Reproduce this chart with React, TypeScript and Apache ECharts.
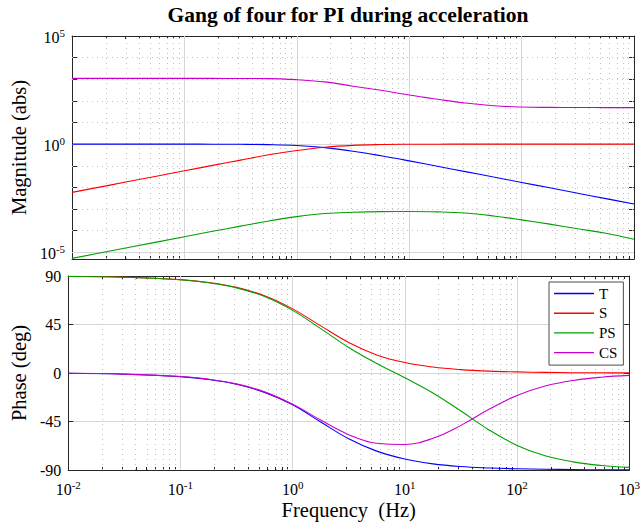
import React, { useEffect, useRef } from 'react';
import * as echarts from 'echarts';

// ---------------- data ----------------
const freqHz = [0.01, 0.0316, 0.1, 0.178, 0.316, 0.562, 1, 1.78, 3.16, 5.62, 10, 17.8, 31.6, 56.2, 100, 178, 316, 562, 1000];

const magT = [1.0, 1.0, 0.998, 0.995, 0.983, 0.949, 0.862, 0.691, 0.473, 0.289, 0.168, 0.0952, 0.0537, 0.0302, 0.017, 0.00956, 0.00538, 0.00302, 0.0017];
const magS = [0.00588, 0.0186, 0.0587, 0.104, 0.183, 0.321, 0.507, 0.723, 0.881, 0.957, 0.986, 0.996, 0.999, 1.0, 1.0, 1.0, 1.0, 1.0, 1.0];
const magPS = [5.25e-6, 1.66e-5, 5.25e-5, 9.33e-5, 1.62e-4, 2.82e-4, 4.47e-4, 6.17e-4, 7.08e-4, 7.59e-4, 7.67e-4, 7.41e-4, 6.53e-4, 4.79e-4, 3.16e-4, 2.0e-4, 1.23e-4, 7.59e-5, 3.98e-5];
const magCS = [1096, 1096, 1096, 1094, 1084, 1072, 955, 759, 479, 309, 186, 119.4, 79.4, 59.6, 52.2, 50.1, 49.5, 49.0, 49.0];

const phaseT = [-0.3, -1.1, -3.4, -6.0, -10.5, -18.0, -29.5, -45.5, -61.0, -72.5, -79.8, -84.3, -86.8, -88.1, -88.9, -89.3, -89.6, -89.8, -89.9];
const phaseS = [89.7, 88.9, 86.6, 84.0, 79.5, 71.7, 59.5, 43.7, 28.3, 16.8, 9.7, 5.5, 3.1, 1.7, 1.0, 0.55, 0.3, 0.17, 0.1];
const phasePS = [89.6, 88.9, 86.5, 83.8, 79.0, 70.9, 58.1, 41.2, 23.7, 8.8, -4.4, -18.5, -35.3, -52.8, -67.2, -76.8, -82.5, -85.8, -87.6];
const phaseCS = [-0.3, -1.0, -3.2, -5.7, -10.1, -17.5, -29.0, -43.7, -57.2, -65.2, -66.3, -60.6, -48.6, -33.7, -20.8, -12.1, -6.9, -3.9, -2.2];

const seriesNames = ['T', 'S', 'PS', 'CS'];
const titleText = 'Gang of four for PI during acceleration';
const magAxisName = 'Magnitude (abs)';
const phaseAxisName = 'Phase (deg)';
const freqAxisName = 'Frequency  (Hz)';

// axis ranges / ticks (exponents of 10 for log axes)
const freqExpMin = -2;
const freqExpMax = 3;
const magExpMin = -5.31;
const magExpMax = 5;
const magLabelExps = [-5, 0, 5];
const magDecadeExps = [-5, -4, -3, -2, -1, 0, 1, 2, 3, 4, 5];
const phaseMin = -90;
const phaseMax = 90;
const phaseStep = 45;

// ---------------- styles ----------------
const colors = ['#0000ff', '#ff0000', '#00a000', '#cc00cc'];
const FONT = '"Liberation Serif", "Times New Roman", serif';
const AXIS_COLOR = '#262626';
const MAJOR_GRID = '#d6d6d6';
const MINOR_GRID = '#c0c0c0';

const lg = Math.log10;

export default function App() {
  const ref = useRef<HTMLDivElement>(null);

  useEffect(() => {
    if (!ref.current) return;
    const chart = echarts.init(ref.current, undefined, { renderer: 'svg' });

    const minorX: number[] = [];
    const majorX: number[] = [];
    for (let n = freqExpMin; n < freqExpMax; n++) {
      if (n > freqExpMin) majorX.push(n);
      for (let k = 2; k <= 9; k++) minorX.push(n + lg(k));
    }

    const supFmt = (v: number) => `{b|10}{s|${Math.round(v)}}`;
    const rich = {
      b: { fontFamily: FONT, fontSize: 16, color: '#000', verticalAlign: 'bottom' },
      s: { fontFamily: FONT, fontSize: 11, color: '#000', verticalAlign: 'top', padding: [0, 0, 7, 0] },
    };
    const lineStyle = { color: AXIS_COLOR, width: 1 };

    const makeXAxes = (gridIndex: number, withLabels: boolean) => {
      const base = {
        type: 'value',
        gridIndex,
        min: freqExpMin,
        max: freqExpMax,
        interval: 1,
        splitLine: { show: false },
      };
      return [
        {
          ...base,
          position: 'bottom',
          axisLine: { show: true, onZero: false, lineStyle },
          axisTick: { show: true, inside: true, length: 6, lineStyle },
          axisLabel: withLabels
            ? { show: true, formatter: supFmt, rich, margin: 9 }
            : { show: false },
          ...(withLabels
            ? {
                name: freqAxisName,
                nameLocation: 'middle',
                nameGap: 29,
                nameTextStyle: { fontFamily: FONT, fontSize: 20.5, color: '#000' },
              }
            : {}),
        },
        {
          ...base,
          position: 'bottom',
          axisLine: { show: false, onZero: false },
          axisTick: { show: true, inside: true, length: 3, customValues: minorX, lineStyle },
          axisLabel: { show: false },
        },
        {
          ...base,
          position: 'top',
          axisLine: { show: true, onZero: false, lineStyle },
          axisTick: { show: true, inside: true, length: 6, lineStyle },
          axisLabel: { show: false },
        },
        {
          ...base,
          position: 'top',
          axisLine: { show: false, onZero: false },
          axisTick: { show: true, inside: true, length: 3, customValues: minorX, lineStyle },
          axisLabel: { show: false },
        },
      ];
    };

    const xAxis = [...makeXAxes(0, false), ...makeXAxes(1, true)];

    const yAxis = [
      {
        type: 'value',
        gridIndex: 0,
        position: 'left',
        min: magExpMin,
        max: magExpMax,
        axisLine: { show: true, onZero: false, lineStyle },
        axisTick: { show: true, inside: true, length: 5, customValues: magDecadeExps, lineStyle },
        axisLabel: { show: true, customValues: magLabelExps, formatter: supFmt, rich, margin: 7 },
        splitLine: { show: false },
        name: magAxisName,
        nameLocation: 'middle',
        nameGap: 38,
        nameTextStyle: { fontFamily: FONT, fontSize: 20.5, color: '#000' },
      },
      {
        type: 'value',
        gridIndex: 0,
        position: 'right',
        min: magExpMin,
        max: magExpMax,
        axisLine: { show: true, onZero: false, lineStyle },
        axisTick: { show: true, inside: true, length: 5, customValues: magDecadeExps, lineStyle },
        axisLabel: { show: false },
        splitLine: { show: false },
      },
      {
        type: 'value',
        gridIndex: 1,
        position: 'left',
        min: phaseMin,
        max: phaseMax,
        interval: phaseStep,
        axisLine: { show: true, onZero: false, lineStyle },
        axisTick: { show: true, inside: true, length: 5, lineStyle },
        axisLabel: { show: true, fontFamily: FONT, fontSize: 16, color: '#000', margin: 7 },
        splitLine: { show: true, lineStyle: { color: MAJOR_GRID, width: 1 } },
        name: phaseAxisName,
        nameLocation: 'middle',
        nameGap: 31,
        nameTextStyle: { fontFamily: FONT, fontSize: 20.5, color: '#000' },
      },
      {
        type: 'value',
        gridIndex: 1,
        position: 'right',
        min: phaseMin,
        max: phaseMax,
        interval: phaseStep,
        axisLine: { show: true, onZero: false, lineStyle },
        axisTick: { show: true, inside: true, length: 5, lineStyle },
        axisLabel: { show: false },
        splitLine: { show: false },
      },
    ];

    const dotted = { type: [1, 4], color: MINOR_GRID, width: 1 };
    const solid = { type: 'solid', color: MAJOR_GRID, width: 1 };

    const vLines = [
      ...minorX.map((v) => ({ xAxis: v, lineStyle: dotted })),
      ...majorX.map((v) => ({ xAxis: v, lineStyle: solid })),
    ];
    const hLinesTop = magDecadeExps
      .filter((e) => e !== magExpMax)
      .map((e) => ({ yAxis: e, lineStyle: magLabelExps.includes(e) ? solid : dotted }));

    const gridHost = (xi: number, yi: number, lines: any[]) => ({
      type: 'line',
      name: '__grid' + xi,
      xAxisIndex: xi,
      yAxisIndex: yi,
      data: [[freqExpMin, 0]],
      symbol: 'none',
      lineStyle: { opacity: 0 },
      silent: true,
      z: 1,
      emphasis: { disabled: true },
      markLine: {
        silent: true,
        symbol: ['none', 'none'],
        label: { show: false },
        animation: false,
        emphasis: { disabled: true },
        data: lines,
      },
    });

    const magSets = [magT, magS, magPS, magCS];
    const phaseSets = [phaseT, phaseS, phasePS, phaseCS];

    const curve = (name: string, color: string, xi: number, yi: number, data: number[][]) => ({
      type: 'line',
      name,
      xAxisIndex: xi,
      yAxisIndex: yi,
      data,
      symbol: 'none',
      smooth: 0.4,
      lineStyle: { color, width: 1.1 },
      itemStyle: { color },
      z: 5,
      emphasis: { disabled: true },
    });

    const series: any[] = [
      gridHost(0, 0, [...vLines, ...hLinesTop]),
      gridHost(4, 2, vLines),
    ];
    seriesNames.forEach((name, i) => {
      series.push(
        curve(name, colors[i], 0, 0, freqHz.map((f, j) => [lg(f), lg(magSets[i][j])]))
      );
    });
    seriesNames.forEach((name, i) => {
      series.push(curve(name, colors[i], 4, 2, freqHz.map((f, j) => [lg(f), phaseSets[i][j]])));
    });

    const option: any = {
      animation: false,
      backgroundColor: '#ffffff',
      textStyle: { fontFamily: FONT },
      graphic: [
        {
          type: 'text',
          x: 348,
          y: 15,
          style: {
            text: titleText,
            fontFamily: FONT,
            fontSize: 21.5,
            fontWeight: 'bold',
            fill: '#000',
            align: 'center',
            verticalAlign: 'middle',
          },
        },
      ],
      grid: [
        { left: 63, top: 36, width: 571, height: 223, containLabel: false },
        { left: 63, top: 276, width: 571, height: 194, containLabel: false },
      ],
      legend: {
        data: seriesNames,
        orient: 'vertical',
        left: 549,
        top: 282,
        icon: 'rect',
        itemWidth: 40,
        itemHeight: 1.4,
        itemGap: 4.7,
        padding: [4, 6, 5, 5],
        borderColor: '#4d4d4d',
        borderWidth: 1,
        backgroundColor: '#ffffff',
        selectedMode: false,
        textStyle: { fontFamily: FONT, fontSize: 15, color: '#000', lineHeight: 14 },
        z: 10,
      },
      xAxis,
      yAxis,
      series,
    };

    chart.setOption(option);
    return () => {
      chart.dispose();
    };
  }, []);

  return (
    <div
      ref={ref}
      style={{ position: 'fixed', left: 0, top: 0, width: 643, height: 525, background: '#fff' }}
    />
  );
}
